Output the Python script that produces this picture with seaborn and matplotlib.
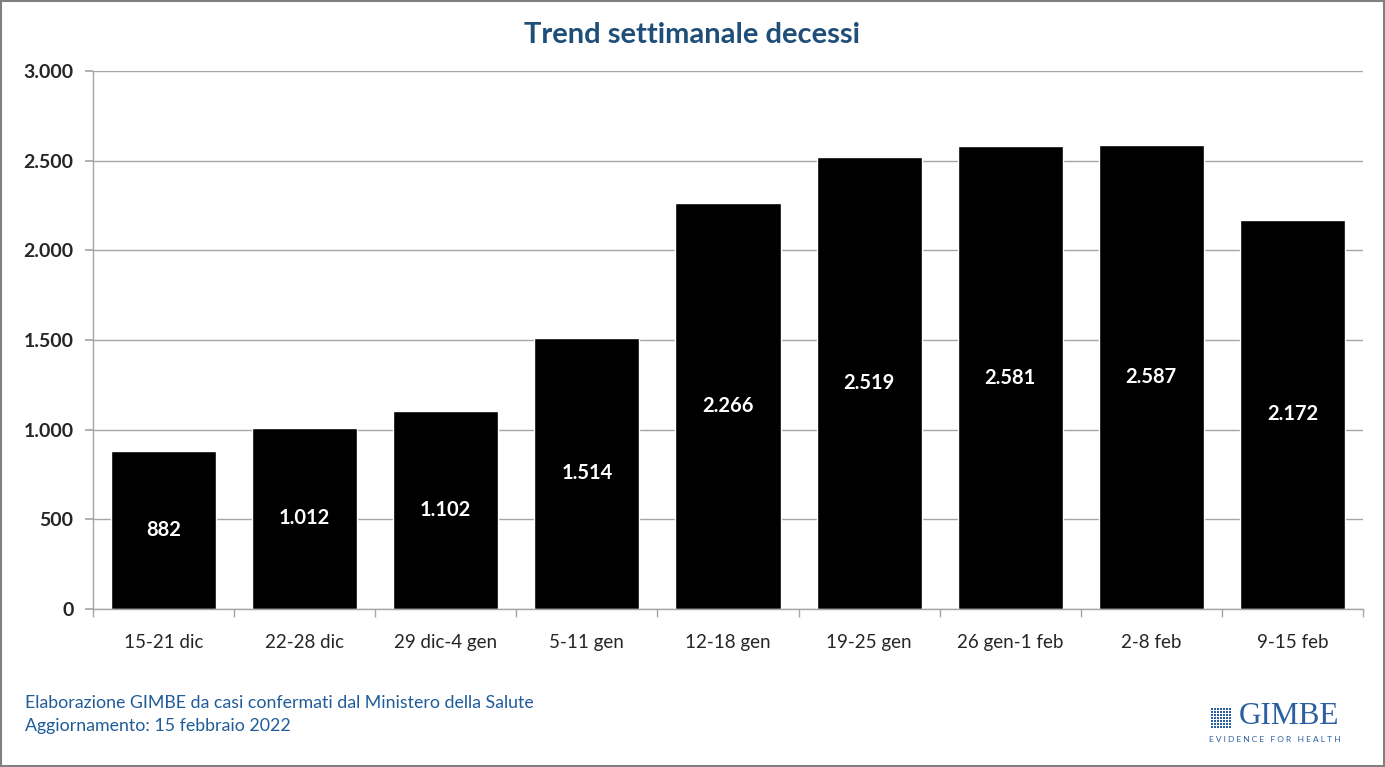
import matplotlib
matplotlib.use("Agg")
import matplotlib.pyplot as plt
import matplotlib.patches as mpatches
from matplotlib.ticker import FuncFormatter, FixedLocator
import seaborn as sns
import pandas as pd

# Data
settimane = ['15-21 dic', '22-28 dic', '29 dic-4 gen', '5-11 gen', '12-18 gen',
             '19-25 gen', '26 gen-1 feb', '2-8 feb', '9-15 feb']
decessi = [882, 1012, 1102, 1514, 2266, 2519, 2581, 2587, 2172]

df = pd.DataFrame({'Settimana': settimane, 'Decessi': decessi})

sns.set_theme(style='white')
plt.rcParams['font.family'] = ['Lato', 'DejaVu Sans']

blu = '#1F5C99'
grigio = '#A6A6A6'

fig = plt.figure(figsize=(13.85, 7.67), dpi=100)
ax = fig.add_axes([0.0671, 0.206, 0.917, 0.7014])

sns.barplot(data=df, x='Settimana', y='Decessi', color='black', width=0.745,
            saturation=1, ax=ax)

def fmt(v):
    return f'{int(v):,}'.replace(',', '.')

for i, v in enumerate(decessi):
    ax.text(i, v / 2, fmt(v), ha='center', va='center', color='white',
            fontsize=14.5, fontweight='bold')

ax.set_ylim(0, 3000)
ax.set_xlim(-0.5, len(settimane) - 0.5)
ax.set_yticks(range(0, 3001, 500))
ax.yaxis.set_major_formatter(FuncFormatter(lambda v, p: fmt(v)))
ax.grid(axis='y', color=grigio, linewidth=1)
ax.set_axisbelow(True)
ax.set_xlabel('')
ax.set_ylabel('')

for s in ['top', 'right']:
    ax.spines[s].set_visible(False)
for s in ['left', 'bottom']:
    ax.spines[s].set_color(grigio)
    ax.spines[s].set_linewidth(1)

ax.tick_params(axis='y', which='major', left=True, length=6, color=grigio,
               labelsize=14, pad=8)
for lab in ax.get_yticklabels():
    lab.set_fontweight('bold')
ax.tick_params(axis='x', which='major', bottom=False, labelsize=13.5, pad=12)
ax.xaxis.set_minor_locator(FixedLocator([i - 0.5 for i in range(len(settimane) + 1)]))
ax.tick_params(axis='x', which='minor', bottom=True, length=6, color=grigio)

fig.text(0.5, 0.955, 'Trend settimanale decessi', ha='center', va='center',
         color='#1F4E79', fontsize=21, fontweight='bold')

fig.text(0.018, 0.084, 'Elaborazione GIMBE da casi confermati dal Ministero della Salute',
         color=blu, fontsize=12.8, va='center')
fig.text(0.018, 0.053, 'Aggiornamento: 15 febbraio 2022', color=blu,
         fontsize=12.8, va='center')

# logo GIMBE
logo = '#2B5FA0'
x0, y0, step = 1211 / 1385, 1 - 728 / 767, 3.0
for r in range(7):
    for c in range(7):
        fig.patches.append(mpatches.Rectangle(
            (x0 + c * step / 1385, y0 + r * step / 767), 2.3 / 1385, 2.3 / 767,
            transform=fig.transFigure, color=logo, linewidth=0))
fig.text(1339 / 1385, 1 - 717 / 767, 'GIMBE', family=['Liberation Serif', 'DejaVu Serif'],
         color=logo, fontsize=22.5, va='center', ha='right')
fig.text(1275 / 1385, 1 - 739 / 767, 'E V I D E N C E   F O R   H E A L T H', color=logo,
         fontsize=6.0, va='center', ha='center')

# cornice
fig.patches.append(mpatches.Rectangle((0.0008, 0.0013), 0.9984, 0.9974,
                   transform=fig.transFigure, fill=False, edgecolor='#808080',
                   linewidth=1.5))

fig.savefig('out.png', dpi=100)
